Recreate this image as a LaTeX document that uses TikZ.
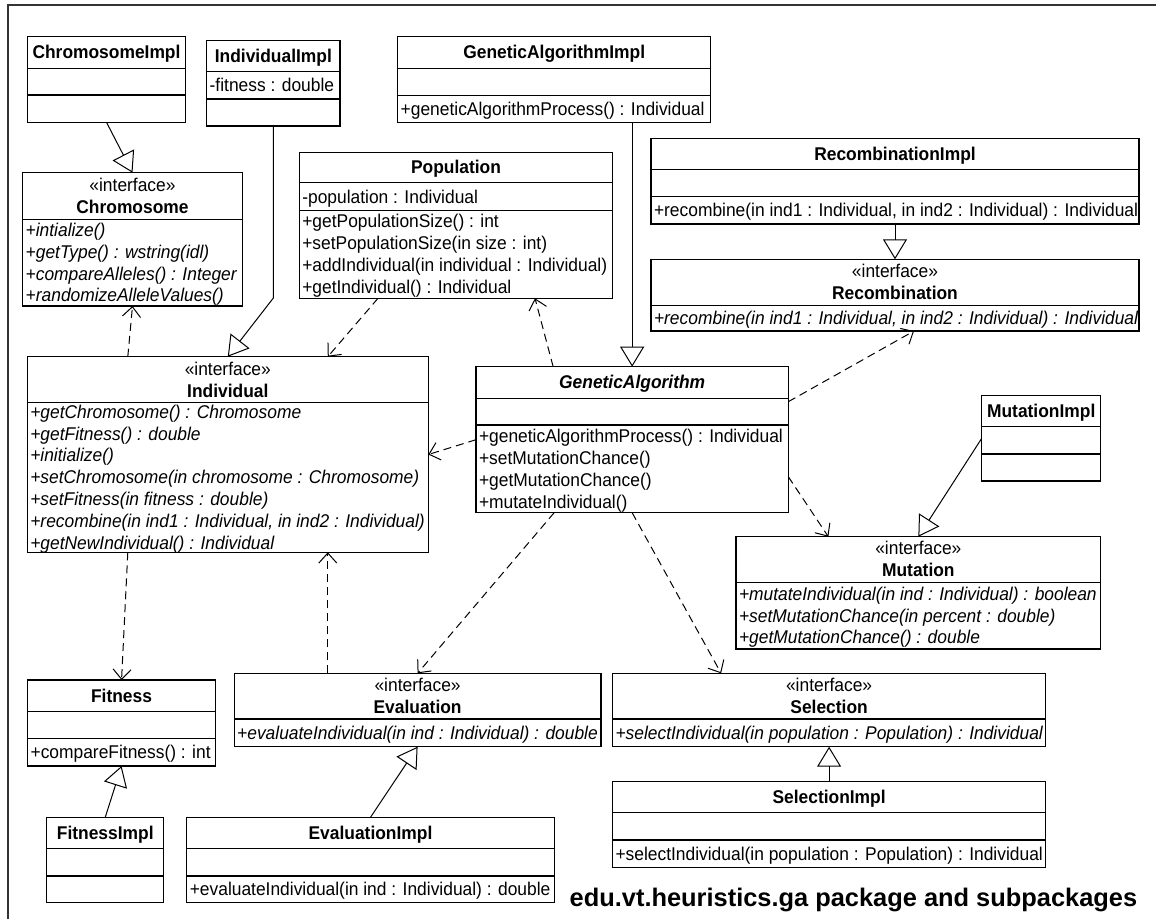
\documentclass[tikz,border=0pt]{standalone}
\usepackage{fontspec}
\setmainfont{Liberation Sans}
\usetikzlibrary{arrows.meta}

% class box: name, left, top, right, bottom
\newcommand{\cls}[5]{\node[box, anchor=north west, minimum width={(#4)-(#2)}, minimum height={(#5)-(#3)}] (#1) at (#2,#3) {};}
% compartment separator inside a class box
\newcommand{\csep}[2]{\draw[boxline] (#1.west |- 0,#2) -- (#1.east |- 0,#2);}
% text block, set slightly taller than the font's own proportions
\newcommand{\tall}[1]{\scalebox{1}[1.06]{#1}}
% centred compartment text: name, centre x, compartment middle y, lines
\newcommand{\ctext}[4]{\node[txt] (#1) at ({#2},{#3+2}) {\tall{\begin{tabular}{@{}c@{}}#4\end{tabular}}};}
% left aligned compartment text: name, box left x, compartment middle y, lines
\newcommand{\ltext}[4]{\node[txt, anchor=west] (#1) at ({#2+3},{#3+2}) {\tall{\begin{tabular}{@{}l@{}}#4\end{tabular}}};}
\newcommand{\litext}[4]{\node[txt, anchor=west, font=\fontsize{17.4}{20.7}\selectfont\itshape] (#1) at ({#2+3},{#3+2}) {\tall{\begin{tabular}{@{}l@{}}#4\end{tabular}}};}

\tikzset{
  box/.style={draw, line width=1.3pt, rectangle, inner sep=0pt, outer sep=0pt},
  boxline/.style={line width=1.3pt},
  txt/.style={inner sep=0pt, outer sep=0pt, font=\fontsize{17.4}{20.7}\selectfont},
  gen/.style={line width=1pt, -{Triangle[open, length=20pt, width=24pt]}},
  dep/.style={line width=1pt, dash pattern=on 8pt off 5pt, -{Straight Barb[length=10pt, width=18pt]}},
}

\begin{document}
\begin{tikzpicture}[x=1pt, y=-1pt]
\useasboundingbox (0,0) rectangle (1156,919);
\fill[white] (0,0) rectangle (1156,919);

% package frame
\draw[line width=1.6pt, black!80] (8,919) -- (8,5) -- (1156,5);

% ---------------- ChromosomeImpl
\cls{chrImpl}{27.3}{36.7}{185.7}{122.3}
\csep{chrImpl}{68.3}\csep{chrImpl}{95}
\ctext{chrImplN}{106.5}{52.5}{\textbf{ChromosomeImpl}}

% ---------------- IndividualImpl
\cls{indImpl}{206.7}{40.7}{340}{126}
\csep{indImpl}{71.7}\csep{indImpl}{99}
\ctext{indImplN}{273.35}{56.2}{\textbf{IndividualImpl}}
\ltext{indImplA}{206.7}{85.35}{-fitness : double}

% ---------------- GeneticAlgorithmImpl
\cls{gaImpl}{397.7}{36.7}{710.7}{122.3}
\csep{gaImpl}{68.3}\csep{gaImpl}{95.7}
\ctext{gaImplN}{554.2}{52.5}{\textbf{GeneticAlgorithmImpl}}
\ltext{gaImplO}{397.7}{109}{+geneticAlgorithmProcess() : Individual}

% ---------------- Chromosome
\cls{chrom}{22.7}{172.7}{242.3}{306}
\csep{chrom}{219.3}
\ctext{chromN}{132.5}{196}{«interface»\\\textbf{Chromosome}}
\litext{chromO}{22.7}{262.65}{+intialize()\\+getType() : wstring(idl)\\+compareAlleles() : Integer\\+randomizeAlleleValues()}

% ---------------- Population
\cls{pop}{299.3}{152.3}{612.7}{298.3}
\csep{pop}{182.7}\csep{pop}{210.7}
\ctext{popN}{456}{167.5}{\textbf{Population}}
\ltext{popA}{299.3}{196.7}{-population : Individual}
\ltext{popO}{299.3}{254.5}{+getPopulationSize() : int\\+setPopulationSize(in size : int)\\+addIndividual(in individual : Individual)\\+getIndividual() : Individual}

% ---------------- RecombinationImpl
\cls{recImpl}{651}{138.3}{1139}{224}
\csep{recImpl}{169.3}\csep{recImpl}{196.7}
\ctext{recImplN}{895}{153.8}{\textbf{RecombinationImpl}}
\ltext{recImplO}{651}{210.35}{+recombine(in ind1 : Individual, in ind2 : Individual) : Individual}

% ---------------- Recombination
\cls{rec}{651}{259.3}{1139}{331}
\csep{rec}{305.3}
\ctext{recN}{895}{282.3}{«interface»\\\textbf{Recombination}}
\litext{recO}{651}{318.15}{+recombine(in ind1 : Individual, in ind2 : Individual) : Individual}

% ---------------- Individual
\cls{ind}{27.3}{356.7}{428.3}{552.3}
\csep{ind}{402.7}
\ctext{indN}{227.8}{379.7}{«interface»\\\textbf{Individual}}
\litext{indO}{27.3}{477.5}{+getChromosome() : Chromosome\\+getFitness() : double\\+initialize()\\+setChromosome(in chromosome : Chromosome)\\+setFitness(in fitness : double)\\+recombine(in ind1 : Individual, in ind2 : Individual)\\+getNewIndividual() : Individual}

% ---------------- GeneticAlgorithm
\cls{ga}{476}{366.7}{788.3}{512.7}
\csep{ga}{398.3}\csep{ga}{425}
\ctext{gaN}{632.15}{382.5}{\textbf{\itshape GeneticAlgorithm}}
\ltext{gaO}{476}{468.85}{+geneticAlgorithmProcess() : Individual\\+setMutationChance()\\+getMutationChance()\\+mutateIndividual()}

% ---------------- MutationImpl
\cls{mutImpl}{981.7}{395.7}{1100.7}{481}
\csep{mutImpl}{426.7}\csep{mutImpl}{454}
\ctext{mutImplN}{1041.2}{411.2}{\textbf{MutationImpl}}

% ---------------- Mutation
\cls{mut}{736}{536.7}{1100.7}{649}
\csep{mut}{582.3}
\ctext{mutN}{918.35}{559.5}{«interface»\\\textbf{Mutation}}
\litext{mutO}{736}{615.65}{+mutateIndividual(in ind : Individual) : boolean\\+setMutationChance(in percent : double)\\+getMutationChance() : double}

% ---------------- Fitness
\cls{fit}{27.6}{680}{215.5}{766}
\csep{fit}{711.7}\csep{fit}{738.3}
\ctext{fitN}{121.55}{695.85}{\textbf{Fitness}}
\ltext{fitO}{27.6}{752.15}{+compareFitness() : int}

% ---------------- FitnessImpl
\cls{fitImpl}{46.7}{817.3}{163.8}{902.7}
\csep{fitImpl}{848.3}\csep{fitImpl}{876}
\ctext{fitImplN}{105.25}{832.8}{\textbf{FitnessImpl}}

% ---------------- Evaluation
\cls{eval}{234.2}{673.3}{601}{746.7}
\csep{eval}{719}
\ctext{evalN}{417.6}{696.15}{«interface»\\\textbf{Evaluation}}
\litext{evalO}{234.2}{732.85}{+evaluateIndividual(in ind : Individual) : double}

% ---------------- EvaluationImpl
\cls{evalImpl}{186.8}{817.3}{554.2}{902.7}
\csep{evalImpl}{848.3}\csep{evalImpl}{876}
\ctext{evalImplN}{370.5}{832.8}{\textbf{EvaluationImpl}}
\ltext{evalImplO}{186.8}{889.35}{+evaluateIndividual(in ind : Individual) : double}

% ---------------- Selection
\cls{sel}{612.5}{673.3}{1045.7}{746.7}
\csep{sel}{719}
\ctext{selN}{829.1}{696.15}{«interface»\\\textbf{Selection}}
\litext{selO}{612.5}{732.85}{+selectIndividual(in population : Population) : Individual}

% ---------------- SelectionImpl
\cls{selImpl}{612.5}{781.7}{1045.7}{867.3}
\csep{selImpl}{812.7}\csep{selImpl}{840}
\ctext{selImplN}{829.1}{797.2}{\textbf{SelectionImpl}}
\ltext{selImplO}{612.5}{853.65}{+selectIndividual(in population : Population) : Individual}

% ---------------- generalizations
\draw[gen] (chrImpl.south) -- (chrom.north);
\draw[gen] (indImpl.south) -- ++(0,172) -- (ind.north);
\draw[gen] (gaImpl.south -| ga.north) -- (ga.north);
\draw[gen] (recImpl.south) -- (rec.north);
\draw[gen] (mutImpl.west) -- (mut.north);
\draw[gen] (fitImpl.north) -- (fit.south);
\draw[gen] (evalImpl.north) -- (eval.south);
\draw[gen] (selImpl.north) -- (sel.south);

% ---------------- dependencies
\coordinate (indS) at ([xshift=100pt]ind.south);
\draw[dep] ([xshift=-100pt]ind.north) -- (chrom.south);
\draw[dep] ([xshift=-100pt]ind.south) -- (fit.north);
\draw[dep] ([xshift=-78pt]pop.south) -- ([xshift=100pt]ind.north);
\draw[dep] ([xshift=-79pt]ga.north) -- ([xshift=79pt]pop.south);
\draw[dep] (ga.west) -- (ind.east);
\draw[dep] ([yshift=-35pt]ga.north east) -- ([xshift=19pt]rec.south);
\draw[dep] ([yshift=36pt]ga.south east) -- ([xshift=-90pt]mut.north);
\draw[dep] ([xshift=-78pt]ga.south) -- (eval.north);
\draw[dep] (ga.south) -- ([xshift=-108pt]sel.north);
\draw[dep] (indS |- eval.north) -- (indS);

% ---------------- package caption
\node[inner sep=0pt, anchor=base west, font=\fontsize{25.4}{30}\selectfont\bfseries] (caption) at (569.5,906.5) {edu.vt.heuristics.ga package and subpackages};
\end{tikzpicture}
\end{document}
